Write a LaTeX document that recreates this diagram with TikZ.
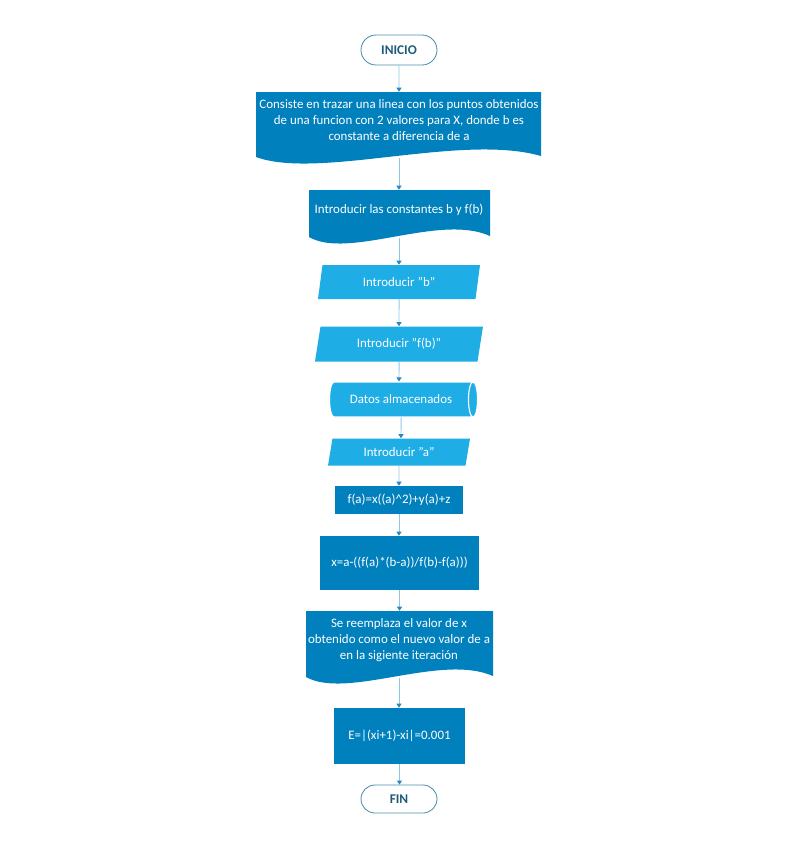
\documentclass[tikz,border=0pt]{standalone}
\usepackage{fontspec}
\setmainfont{Carlito}
\usetikzlibrary{shapes.geometric,shapes.misc,arrows.meta}

\definecolor{darkblue}{HTML}{0080BC}
\definecolor{lightblue}{HTML}{1EADE4}
\definecolor{termline}{HTML}{4A8DAE}
\definecolor{termtext}{HTML}{1F5B78}
\definecolor{flowline}{HTML}{8EC8E5}
\definecolor{flowhead}{HTML}{2B86BF}

\newlength\px
\setlength\px{0.025cm}

% document shape: name of lower point, left, right, top, base of wave
\newcommand{\docwave}[5]{%
  \fill[darkblue] (#2,#4) -- (#3,#4) -- (#3,{#5-1})
    .. controls ({#2+0.72*(#3-#2)},{#5-24}) and ({#2+0.22*(#3-#2)},{#5+23}) .. (#2,#5) -- cycle;
  \coordinate (#1) at (399,{#5+1});}

\tikzset{
  base/.style={font=\fontsize{9.2}{11.4}\selectfont,align=center,inner sep=0pt,text=white},
  term/.style={base,rounded rectangle,draw=termline,line width=0.6pt,text=termtext,
    font=\fontsize{9.5}{10}\selectfont\bfseries,minimum width=76\px},
  docbox/.style={base},
  inbox/.style={base,trapezium,trapezium left angle=64,trapezium right angle=116,
    trapezium stretches body,fill=lightblue},
  store/.style={base,cylinder,aspect=1,fill=lightblue,draw=white,line width=0.8pt},
  procbox/.style={base,rectangle,fill=darkblue},
  flow/.style={draw=flowline,line width=0.7pt,-{Triangle[width=3.6pt,length=2.9pt,color=flowhead]}}
}

\begin{document}
\begin{tikzpicture}[x=\px,y=-\px]
\useasboundingbox (0,0) rectangle (800,850);
\docwave{intro-b}{256}{541}{92}{157}
\docwave{consts-b}{309}{490}{190}{237}
\docwave{reemp-b}{306}{493}{611}{677}

\node[term,minimum height=30\px] (inicio) at (399,50) {INICIO};
\node[docbox,minimum width=285\px,minimum height=56\px] (intro) at (399,120)
  {Consiste en trazar una linea con los puntos obtenidos\\de una funcion con 2 valores para X, donde b es\\constante a diferencia de a};
\node[docbox,minimum width=181\px,minimum height=40\px] (consts) at (399,210) {Introducir las constantes b y f(b)};
\node[inbox,minimum width=162\px,minimum height=34\px] (inb) at (399,282) {Introducir "b"};
\node[inbox,minimum width=168\px,minimum height=35\px] (infb) at (399,344) {Introducir "f(b)"};
\node[store,minimum width=35\px,minimum height=148\px] (datos) at (401,399.5) {Datos almacenados};
\node[inbox,minimum width=142\px,minimum height=27\px] (ina) at (399,452) {Introducir "a"};
\node[procbox,minimum width=128\px,minimum height=28\px] (fa) at (399,500) {f(a)=x((a)\string^2)+y(a)+z};
\node[procbox,minimum width=159\px,minimum height=54\px] (xnew) at (399.5,563) {x=a-((f(a)*(b-a))/f(b)-f(a)))};
\node[docbox,minimum width=187\px,minimum height=58\px] (reemp) at (399,640)
  {Se reemplaza el valor de x\\obtenido como el nuevo valor de a\\en la sigiente iteración};
\node[procbox,minimum width=131\px,minimum height=56\px] (error) at (399.5,736) {E=|(xi+1)-xi|=0.001};
\node[term,minimum height=28\px] (fin) at (399,799) {FIN};

\foreach \a/\b in {inicio/intro,intro-b/consts,consts-b/inb,inb/infb,infb/datos,datos/ina,
  ina/fa,fa/xnew,xnew/reemp,reemp-b/error,error/fin}
  \draw[flow] (\a) -- (\a |- \b.north);
\end{tikzpicture}
\end{document}
